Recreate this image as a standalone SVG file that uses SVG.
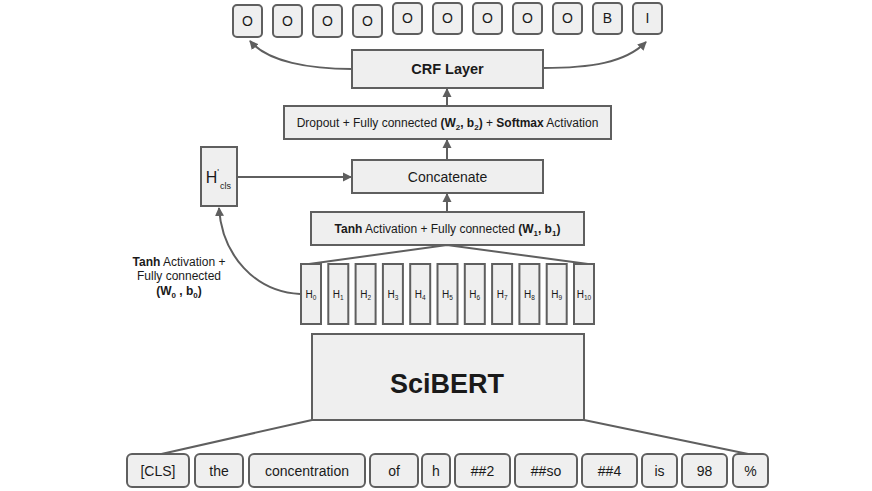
<svg xmlns="http://www.w3.org/2000/svg" width="872" height="491" viewBox="0 0 872 491">
<style>
.box{fill:#efefef;stroke:#5f5f5f;stroke-width:2}
.ln{fill:none;stroke:#5f5f5f;stroke-width:2}
text{font-family:"Liberation Sans",Arial,sans-serif;fill:#1a1a1a;text-anchor:middle}
.t14{font-size:14px}
.t12{font-size:12px}
.b{font-weight:bold}
.h{font-size:10px}
.s{font-size:6.5px}
</style>
<defs>
<marker id="ah" markerWidth="10" markerHeight="10" refX="8" refY="5" orient="auto" markerUnits="userSpaceOnUse">
<path d="M0,0.5 L9,5 L0,9.5 z" fill="#5f5f5f"/>
</marker>
</defs>
<rect width="872" height="491" fill="#ffffff"/>

<g id="connectors">
<path class="ln" d="M352,69 C310,69 268,62 250,41" marker-end="url(#ah)"/>
<path class="ln" d="M543,68 C590,68 625,63 646,42" marker-end="url(#ah)"/>
<path class="ln" d="M447,106 L447,89" marker-end="url(#ah)"/>
<path class="ln" d="M447,160 L447,140" marker-end="url(#ah)"/>
<path class="ln" d="M447,212 L447,194" marker-end="url(#ah)"/>
<path class="ln" d="M237,177 L351,177" marker-end="url(#ah)"/>
<path class="ln" d="M300,294 C255,292 222,255 219,208" marker-end="url(#ah)"/>
<path class="ln" d="M309,264 L447,245 L588,264"/>
<path class="ln" d="M157,455 L312,420"/>
<path class="ln" d="M753,455 L584,420"/>
</g>

<g id="outputs">
<g id="out0"><rect class="box" x="233" y="5" width="29" height="32" rx="4"/><text class="t14" x="247.5" y="26">O</text></g>
<g id="out1"><rect class="box" x="273" y="5" width="29" height="32" rx="4"/><text class="t14" x="287.5" y="26">O</text></g>
<g id="out2"><rect class="box" x="313" y="5" width="29" height="32" rx="4"/><text class="t14" x="327.5" y="26">O</text></g>
<g id="out3"><rect class="box" x="353" y="5" width="29" height="32" rx="4"/><text class="t14" x="367.5" y="26">O</text></g>
<g id="out4"><rect class="box" x="393" y="3" width="29" height="31" rx="4"/><text class="t14" x="407.5" y="23">O</text></g>
<g id="out5"><rect class="box" x="433" y="3" width="29" height="31" rx="4"/><text class="t14" x="447.5" y="23">O</text></g>
<g id="out6"><rect class="box" x="473" y="3" width="29" height="31" rx="4"/><text class="t14" x="487.5" y="23">O</text></g>
<g id="out7"><rect class="box" x="513" y="3" width="29" height="31" rx="4"/><text class="t14" x="527.5" y="23">O</text></g>
<g id="out8"><rect class="box" x="553" y="3" width="29" height="31" rx="4"/><text class="t14" x="567.5" y="23">O</text></g>
<g id="out9"><rect class="box" x="593" y="3" width="29" height="31" rx="4"/><text class="t14" x="607.5" y="23">B</text></g>
<g id="out10"><rect class="box" x="633" y="3" width="29" height="31" rx="4"/><text class="t14" x="647.5" y="23">I</text></g>
</g>

<g id="crf"><rect class="box" x="352" y="50" width="191" height="38"/><text class="b" style="font-size:14.5px" x="447.5" y="74">CRF Layer</text></g>

<g id="dropout"><rect class="box" x="284" y="106" width="327" height="33"/>
<text class="t12" x="447.5" y="127">Dropout + Fully connected <tspan class="b">(W<tspan font-size="8" dy="3">2</tspan><tspan dy="-3">, b</tspan><tspan font-size="8" dy="3">2</tspan><tspan dy="-3">)</tspan></tspan> + <tspan class="b">Softmax</tspan> Activation</text></g>

<g id="concat"><rect class="box" x="352" y="160" width="191" height="33"/><text class="t14" x="447.5" y="182">Concatenate</text></g>

<g id="tanh1"><rect class="box" x="311" y="212" width="273" height="33"/>
<text class="t12" x="447.5" y="233"><tspan class="b">Tanh</tspan> Activation + Fully connected <tspan class="b">(W<tspan font-size="8" dy="3">1</tspan><tspan dy="-3">, b</tspan><tspan font-size="8" dy="3">1</tspan><tspan dy="-3">)</tspan></tspan></text></g>

<g id="hcls"><rect class="box" x="201" y="147" width="36" height="59"/>
<text x="211.5" y="183" style="font-size:16px">H</text>
<text x="218" y="175" style="font-size:9px">'</text>
<text x="225.5" y="189" style="font-size:9px">cls</text></g>

<g id="label0">
<text class="t12" x="179" y="266"><tspan class="b">Tanh</tspan> Activation +</text>
<text class="t12" x="179" y="280">Fully connected</text>
<text class="t12 b" x="179" y="295">(W<tspan font-size="8" dy="3">0</tspan><tspan dy="-3"> , b</tspan><tspan font-size="8" dy="3">0</tspan><tspan dy="-3">)</tspan></text>
</g>

<g id="hidden">
<g id="h0"><rect class="box" x="301" y="264" width="20" height="60"/><text class="h" x="311" y="298">H<tspan class="s" dy="2">0</tspan></text></g>
<g id="h1"><rect class="box" x="328.3" y="264" width="20" height="60"/><text class="h" x="338.3" y="298">H<tspan class="s" dy="2">1</tspan></text></g>
<g id="h2"><rect class="box" x="355.6" y="264" width="20" height="60"/><text class="h" x="365.6" y="298">H<tspan class="s" dy="2">2</tspan></text></g>
<g id="h3"><rect class="box" x="382.9" y="264" width="20" height="60"/><text class="h" x="392.9" y="298">H<tspan class="s" dy="2">3</tspan></text></g>
<g id="h4"><rect class="box" x="410.2" y="264" width="20" height="60"/><text class="h" x="420.2" y="298">H<tspan class="s" dy="2">4</tspan></text></g>
<g id="h5"><rect class="box" x="437.5" y="264" width="20" height="60"/><text class="h" x="447.5" y="298">H<tspan class="s" dy="2">5</tspan></text></g>
<g id="h6"><rect class="box" x="464.8" y="264" width="20" height="60"/><text class="h" x="474.8" y="298">H<tspan class="s" dy="2">6</tspan></text></g>
<g id="h7"><rect class="box" x="492.1" y="264" width="20" height="60"/><text class="h" x="502.1" y="298">H<tspan class="s" dy="2">7</tspan></text></g>
<g id="h8"><rect class="box" x="519.4" y="264" width="20" height="60"/><text class="h" x="529.4" y="298">H<tspan class="s" dy="2">8</tspan></text></g>
<g id="h9"><rect class="box" x="546.7" y="264" width="20" height="60"/><text class="h" x="556.7" y="298">H<tspan class="s" dy="2">9</tspan></text></g>
<g id="h10"><rect class="box" x="574" y="264" width="20" height="60"/><text class="h" x="584" y="298">H<tspan class="s" dy="2">10</tspan></text></g>
</g>

<g id="scibert"><rect class="box" x="312" y="334" width="272" height="86"/><text class="b" style="font-size:27px" x="447" y="393">SciBERT</text></g>

<g id="tokens">
<g id="tk0"><rect class="box" x="127" y="454" width="62" height="33" rx="5"/><text class="t14" x="158" y="476">[CLS]</text></g>
<g id="tk1"><rect class="box" x="195" y="454" width="48" height="33" rx="5"/><text class="t14" x="219" y="476">the</text></g>
<g id="tk2"><rect class="box" x="249" y="454" width="116" height="33" rx="5"/><text class="t14" x="307" y="476">concentration</text></g>
<g id="tk3"><rect class="box" x="370" y="454" width="48" height="33" rx="5"/><text class="t14" x="394" y="476">of</text></g>
<g id="tk4"><rect class="box" x="422" y="454" width="28" height="33" rx="5"/><text class="t14" x="436" y="476">h</text></g>
<g id="tk5"><rect class="box" x="455" y="454" width="55" height="33" rx="5"/><text class="t14" x="482.5" y="476">##2</text></g>
<g id="tk6"><rect class="box" x="515" y="454" width="62" height="33" rx="5"/><text class="t14" x="546" y="476">##so</text></g>
<g id="tk7"><rect class="box" x="582" y="454" width="55" height="33" rx="5"/><text class="t14" x="609.5" y="476">##4</text></g>
<g id="tk8"><rect class="box" x="642" y="454" width="35" height="33" rx="5"/><text class="t14" x="659.5" y="476">is</text></g>
<g id="tk9"><rect class="box" x="682" y="454" width="45" height="33" rx="5"/><text class="t14" x="704.5" y="476">98</text></g>
<g id="tk10"><rect class="box" x="733" y="454" width="35" height="33" rx="5"/><text class="t14" x="750.5" y="476">%</text></g>
</g>
</svg>
